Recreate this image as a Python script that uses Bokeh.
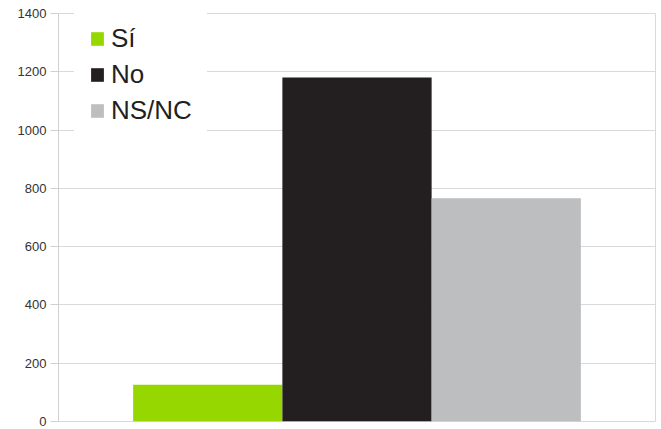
from bokeh.plotting import figure
from bokeh.models import ColumnDataSource, FactorRange, Range1d, FixedTicker
from bokeh.embed import file_html
from bokeh.resources import INLINE

categories = ["Sí", "No", "NS/NC"]
values = [126, 1180, 766]
colors = ["#97d700", "#231f20", "#bcbec0"]
y_ticks = [0, 200, 400, 600, 800, 1000, 1200, 1400]

source = ColumnDataSource(dict(cat=categories, val=values, color=colors))

p = figure(
    width=661, height=429,
    x_range=FactorRange(factors=categories, range_padding=0.5, range_padding_units="absolute"),
    y_range=Range1d(0, 1400),
    output_backend="svg", toolbar_location=None,
    min_border_left=58, min_border_right=6, min_border_top=13, min_border_bottom=8,
)

p.vbar(x="cat", top="val", width=1.0, color="color", line_color=None,
       source=source, legend_field="cat")

p.xaxis.visible = False
p.xgrid.visible = False
p.ygrid.grid_line_color = "#d9d9d9"
p.ygrid.grid_line_width = 1
p.outline_line_color = "#d9d9d9"

ya = p.yaxis[0]
ya.ticker = FixedTicker(ticks=y_ticks)
ya.axis_line_color = "#d0d0d0"
ya.major_tick_line_color = "#d0d0d0"
ya.major_tick_out = 8
ya.major_tick_in = 0
ya.minor_tick_line_color = None
ya.major_label_text_font = "Liberation Sans"
ya.major_label_text_font_size = "13px"
ya.major_label_text_color = "#333333"
ya.major_label_standoff = 4

lg = p.legend[0]
lg.location = (16, 280)
lg.padding = 15
lg.spacing = 5
lg.glyph_width = 16
lg.glyph_height = 17
lg.label_height = 31
lg.label_standoff = 6
lg.label_text_font = "Liberation Sans"
lg.label_text_font_size = "26px"
lg.label_text_color = "#231f20"
lg.background_fill_color = "white"
lg.background_fill_alpha = 1.0
lg.border_line_alpha = 0

open("out.html", "w").write(file_html(p, INLINE))
